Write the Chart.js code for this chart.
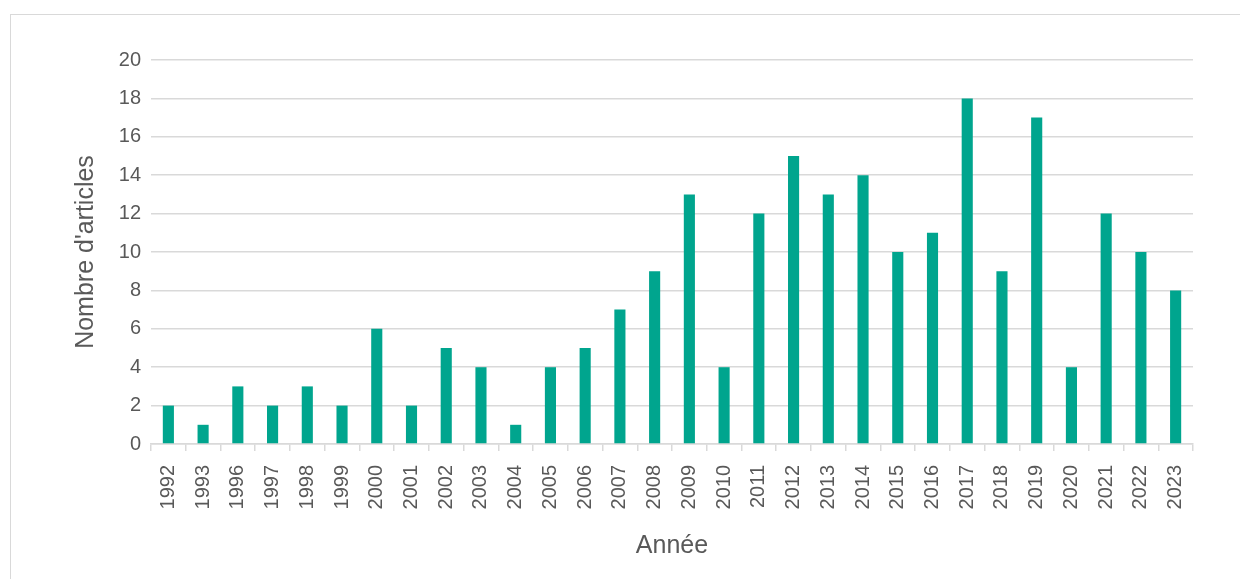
<!DOCTYPE html>
<html>
<head>
<meta charset="utf-8">
<script src="https://cdn.jsdelivr.net/npm/chart.js@4"></script>
<style>
  html, body { margin: 0; padding: 0; background: #ffffff; }
  #wrap { width: 1240px; height: 579px; position: relative; }
</style>
</head>
<body>
<div id="wrap"><canvas id="c" width="1240" height="579"></canvas></div>
<script>
// Publications per year
const years = ['1992','1993','1996','1997','1998','1999','2000','2001','2002','2003','2004','2005','2006','2007','2008','2009','2010','2011','2012','2013','2014','2015','2016','2017','2018','2019','2020','2021','2022','2023'];
const articles = [2,1,3,2,3,2,6,2,5,4,1,4,5,7,9,13,4,12,15,13,14,10,11,18,9,17,4,12,10,8];
const yTicks = [0,2,4,6,8,10,12,14,16,18,20];

const TEXT = '#595959';
const GRID = '#d9d9d9';
const FONT = "'Liberation Sans', Arial, sans-serif";

// Light frame around the chart
const frame = {
  id: 'frame',
  beforeDraw(chart) {
    const ctx = chart.ctx;
    ctx.save();
    ctx.strokeStyle = '#d9d9d9';
    ctx.lineWidth = 1;
    ctx.strokeRect(10.5, 14.5, 1240, 600);
    ctx.restore();
  }
};

new Chart(document.getElementById('c'), {
  type: 'bar',
  data: {
    labels: years,
    datasets: [{
      data: articles,
      backgroundColor: '#00a58e',
      borderWidth: 0,
      barPercentage: 0.64,
      categoryPercentage: 0.5
    }]
  },
  options: {
    responsive: false,
    animation: false,
    layout: { padding: { left: 67, right: 47, top: 60, bottom: 0 } },
    plugins: { legend: { display: false }, tooltip: { enabled: false } },
    scales: {
      x: {
        offset: true,
        grid: {
          offset: true,
          drawOnChartArea: false,
          drawTicks: true,
          tickLength: 7,
          color: GRID,
          lineWidth: 1.5
        },
        border: { display: true, color: GRID, width: 1.5 },
        ticks: {
          color: TEXT,
          font: { family: FONT, size: 20 },
          minRotation: 90,
          maxRotation: 90,
          autoSkip: false,
          padding: 14
        },
        title: {
          display: true,
          text: 'Année',
          color: TEXT,
          font: { family: FONT, size: 25 },
          padding: { top: 4, bottom: 18 }
        },
        afterFit(s) { s.height = 135; }
      },
      y: {
        min: 0,
        max: 20,
        afterBuildTicks(s) { s.ticks = yTicks.map(v => ({ value: v })); },
        grid: { color: GRID, lineWidth: 1.5, drawTicks: false },
        border: { display: false },
        ticks: {
          color: TEXT,
          font: { family: FONT, size: 20 },
          padding: 10
        },
        title: {
          display: true,
          text: "Nombre d'articles",
          color: TEXT,
          font: { family: FONT, size: 25 },
          padding: { top: 4, bottom: 4 }
        },
        afterFit(s) { s.width = 84; }
      }
    }
  },
  plugins: [frame]
});
</script>
</body>
</html>
